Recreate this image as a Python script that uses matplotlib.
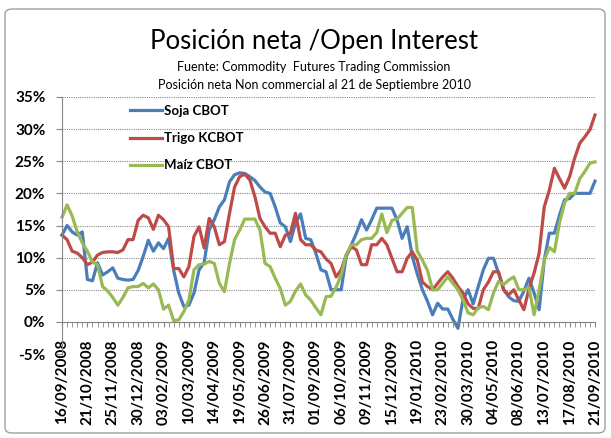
import numpy as np
import matplotlib
matplotlib.use('Agg')
import matplotlib.pyplot as plt
from matplotlib.patches import FancyBboxPatch

# weekly readings, 16/09/2008 .. 21/09/2010 (106 weeks), values in %
soja = [13.5, 15.0, 14.0, 13.5, 14.0, 6.6, 6.4, 9.2, 7.3, 7.8,
        8.4, 6.8, 6.6, 6.5, 6.6, 8.0, 10.2, 12.7, 11.0, 12.3,
        11.4, 13.0, 8.0, 4.5, 2.4, 2.6, 4.5, 8.1, 9.2, 14.3,
        15.9, 17.9, 19.0, 21.8, 22.9, 23.2, 23.1, 22.6, 22.0, 21.0,
        20.2, 20.0, 17.9, 15.4, 14.8, 12.5, 15.4, 16.8, 13.0, 12.8,
        10.7, 8.1, 7.8, 5.0, 5.0, 5.0, 10.2, 12.0, 13.8, 15.9,
        14.3, 15.9, 17.7, 17.7, 17.7, 17.7, 15.9, 13.0, 14.8, 10.2,
        7.4, 5.0, 3.2, 1.1, 2.9, 2.0, 2.0, 0.4, -1.0, 3.5,
        5.0, 2.8, 5.5, 8.1, 9.9, 9.9, 7.6, 5.0, 3.9, 3.3,
        3.2, 4.8, 6.8, 4.5, 1.9, 9.6, 13.8, 13.8, 16.6, 19.0,
        19.2, 20.0, 20.0, 20.0, 20.0, 21.9]

trigo = [13.5, 12.8, 11.0, 10.7, 10.0, 8.9, 9.3, 10.4, 10.8, 10.9,
         10.9, 10.8, 11.2, 12.8, 12.8, 15.8, 16.6, 16.2, 14.4, 16.6,
         15.9, 14.8, 8.3, 8.3, 7.0, 8.6, 13.3, 14.8, 11.5, 16.1,
         14.8, 12.0, 12.5, 16.9, 21.0, 22.6, 23.0, 22.1, 19.5, 16.1,
         14.8, 13.8, 13.8, 11.7, 13.5, 13.8, 16.9, 12.8, 12.0, 12.0,
         11.2, 10.9, 9.8, 9.1, 7.0, 8.1, 10.4, 11.7, 11.2, 8.9,
         8.9, 12.0, 12.0, 13.0, 12.0, 9.9, 7.8, 7.8, 9.9, 10.9,
         9.6, 6.2, 5.5, 5.0, 6.0, 7.0, 7.8, 6.8, 5.5, 4.5,
         2.8, 2.1, 2.1, 5.0, 6.2, 7.8, 7.8, 5.0, 4.2, 5.0,
         3.4, 1.9, 5.2, 7.6, 10.7, 17.9, 20.5, 23.9, 22.3, 20.8,
         22.6, 25.5, 27.8, 28.8, 29.9, 32.2]

maiz = [16.3, 18.2, 16.5, 14.0, 12.3, 11.0, 9.3, 8.9, 5.5, 4.8,
        3.8, 2.6, 3.8, 5.3, 5.5, 5.5, 6.0, 5.3, 5.9, 5.0,
        2.0, 2.6, 0.2, 0.3, 1.6, 3.4, 8.1, 8.9, 9.0, 9.4,
        9.1, 6.0, 4.7, 9.1, 12.8, 14.3, 16.0, 16.0, 16.0, 14.3,
        9.1, 8.6, 6.8, 5.2, 2.6, 3.2, 4.8, 5.9, 4.2, 3.4,
        2.2, 1.1, 3.9, 4.0, 5.4, 7.3, 10.5, 12.0, 12.0, 12.8,
        13.0, 13.0, 13.9, 16.8, 13.9, 15.8, 16.0, 16.9, 17.8, 17.8,
        11.0, 9.6, 8.0, 5.0, 5.0, 6.0, 7.0, 6.0, 5.0, 3.4,
        1.4, 1.1, 2.2, 2.4, 1.9, 4.5, 6.3, 5.8, 6.5, 7.0,
        5.0, 5.0, 5.3, 1.1, 5.0, 9.6, 11.6, 10.9, 15.4, 18.5,
        20.0, 20.0, 22.3, 23.4, 24.7, 24.9]

date_labels = ['16/09/2008', '21/10/2008', '25/11/2008', '30/12/2008',
               '03/02/2009', '10/03/2009', '14/04/2009', '19/05/2009',
               '26/06/2009', '31/07/2009', '01/09/2009', '06/10/2009',
               '09/11/2009', '15/12/2009', '19/01/2010', '23/02/2010',
               '30/03/2010', '04/05/2010', '08/06/2010', '13/07/2010',
               '17/08/2010', '21/09/2010']

y_values = [-5, 0, 5, 10, 15, 20, 25, 30, 35]
y_labels = ['-5%', '0%', '5%', '10%', '15%', '20%', '25%', '30%', '35%']

series = [('Soja CBOT', soja, '#4A7EBB'),
          ('Trigo KCBOT', trigo, '#BE4B48'),
          ('Maíz CBOT', maiz, '#98B954')]

W, H = 611, 438
fig = plt.figure(figsize=(W / 100, H / 100), dpi=100)

# outer chart frame, kept behind the axes
frame = FancyBboxPatch((5 / W, 5 / H), 600 / W, 424 / H,
                       boxstyle='round,pad=0,rounding_size=0.012',
                       transform=fig.transFigure, fc='none', ec='#a0a0a0',
                       lw=1, zorder=-5)
fig.patches.append(frame)

ax = fig.add_axes([62 / W, 1 - 354 / H, (595 - 62) / W, (354 - 97) / H])
ax.set_facecolor('none')

# spines first: moving a spine resets the ticks
for s in ['top', 'right']:
    ax.spines[s].set_visible(False)
ax.spines['left'].set_color('#868686')
ax.spines['bottom'].set_color('#868686')
ax.spines['bottom'].set_position(('data', 0))

weeks = np.arange(len(soja))
for name, vals, col in series:
    ax.plot(weeks, vals, color=col, lw=2.3, label=name, clip_on=False,
            solid_joinstyle='round')

ax.set_xlim(0, len(soja) - 1)
ax.set_ylim(-5, 35)

ax.tick_params(axis='x', which='both', length=3.5, color='#868686', pad=9)
ax.tick_params(axis='y', length=4, color='#868686', pad=8)

ax.set_yticks(y_values)
ax.set_yticklabels(y_labels, fontfamily='Lato', fontweight='bold', fontsize=11)
ax.grid(axis='y', linestyle=(0, (1, 1)), color='#8c8c8c', lw=0.8)
ax.set_axisbelow(True)

ax.set_xticks(weeks, minor=True)
ax.set_xticks(weeks[::5])
ax.set_xticklabels(date_labels, rotation=90, ha='center', va='top',
                   fontfamily='Lato', fontweight='bold', fontsize=11)

ax.legend(loc='upper left', bbox_to_anchor=(130 / W, 1 - 105 / H),
          bbox_transform=fig.transFigure, frameon=False,
          prop=dict(family='Lato', weight='bold', size=9.5),
          handlelength=2.4, handletextpad=0.15, labelspacing=1.15,
          borderpad=0, borderaxespad=0)

fig.text(314 / W, 1 - 41 / H, 'Posición neta /Open Interest', ha='center',
         va='center', fontfamily='Lato', fontsize=18.5)
fig.text(314 / W, 1 - 67 / H, 'Fuente: Commodity  Futures Trading Commission',
         ha='center', va='center', fontfamily='Lato', fontsize=9)
fig.text(314 / W, 1 - 85 / H, 'Posición neta Non commercial al 21 de Septiembre 2010',
         ha='center', va='center', fontfamily='Lato', fontsize=9)

fig.savefig('out.png', dpi=100)
